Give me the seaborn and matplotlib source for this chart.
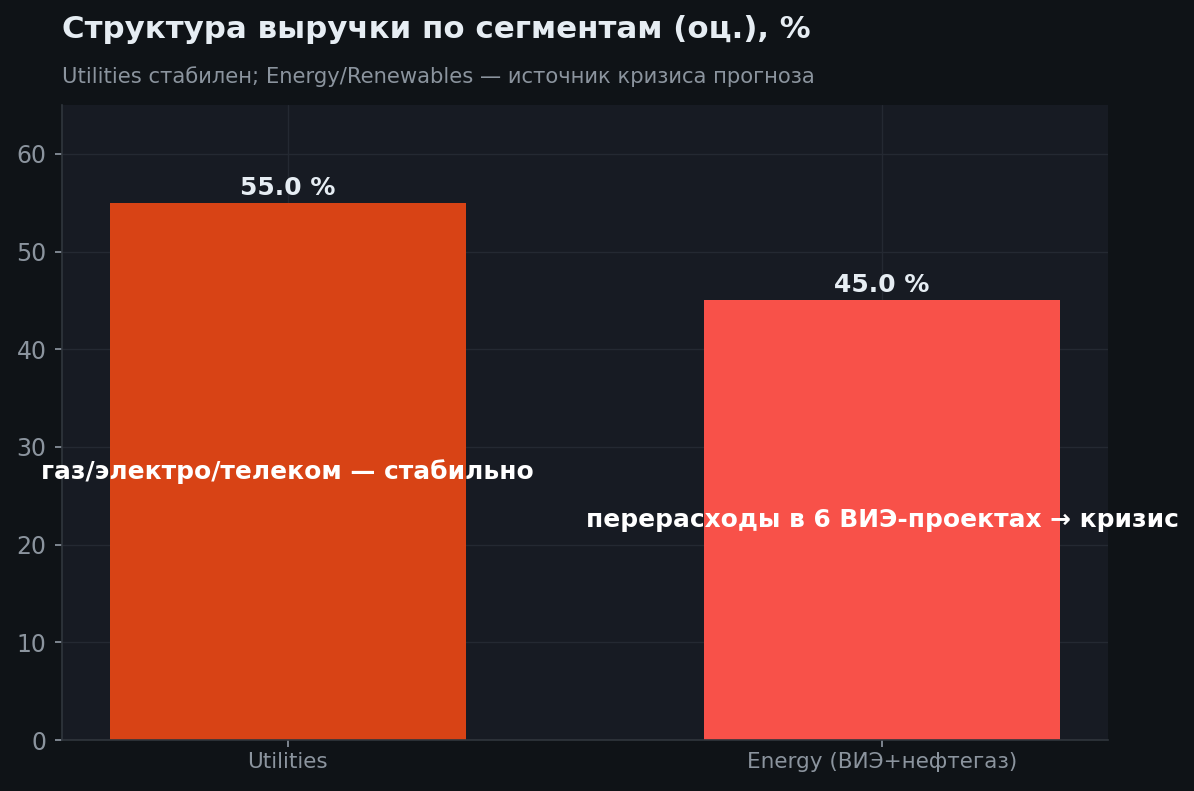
import matplotlib
matplotlib.use("Agg")
import matplotlib.pyplot as plt
import seaborn as sns
import pandas as pd

segments = ["Utilities", "Energy (ВИЭ+нефтегаз)"]
shares = [55.0, 45.0]
notes = ["газ/электро/телеком — стабильно", "перерасходы в 6 ВИЭ-проектах → кризис"]
colors = ["#D84315", "#F85149"]

df = pd.DataFrame({"segment": segments, "share": shares})

sns.set_theme(style="darkgrid")
plt.rcParams["font.family"] = ["DejaVu Sans"]

fig = plt.figure(figsize=(11.94, 7.91), dpi=100, facecolor="#0F1317")
ax = fig.add_axes([62 / 1194, 51 / 791, 1046 / 1194, 635 / 791])
ax.set_facecolor("#171B23")

sns.barplot(data=df, x="segment", y="share", hue="segment", palette=colors,
            width=0.6, legend=False, ax=ax, saturation=1, edgecolor="none",
            linewidth=0)

ax.set_ylim(0, 65)
ax.set_xlim(-0.38, 1.38)
ax.grid(True, color="#242932", linewidth=1)
ax.set_axisbelow(True)
for s in ["top", "right"]:
    ax.spines[s].set_visible(False)
for s in ["left", "bottom"]:
    ax.spines[s].set_visible(True)
    ax.spines[s].set_color("#30363D")
    ax.spines[s].set_linewidth(1.2)
ax.tick_params(axis="y", colors="#8B949E", labelsize=17, length=5, left=True,
               labelcolor="#8B949E", pad=6)
ax.tick_params(axis="x", colors="#8B949E", labelsize=15.5, length=5, bottom=True,
               labelcolor="#8B949E")
ax.set_xlabel("")
ax.set_ylabel("")

for i, (v, note) in enumerate(zip(shares, notes)):
    ax.text(i, v + 0.3, f"{v:.1f} %", ha="center", va="bottom",
            color="#E6EDF3", fontsize=18, fontweight="bold")
    ax.text(i, v / 2, note, ha="center", va="center",
            color="white", fontsize=17.9, fontweight="bold")

fig.text(62 / 1194, 1 - 29 / 791, "Структура выручки по сегментам (оц.), %",
         ha="left", va="center", color="#E6EDF3", fontsize=22.2, fontweight="bold")
fig.text(62 / 1194, 1 - 77 / 791,
         "Utilities стабилен; Energy/Renewables — источник кризиса прогноза",
         ha="left", va="center", color="#8B949E", fontsize=15.2)

fig.savefig("out.png", dpi=100, facecolor=fig.get_facecolor())
